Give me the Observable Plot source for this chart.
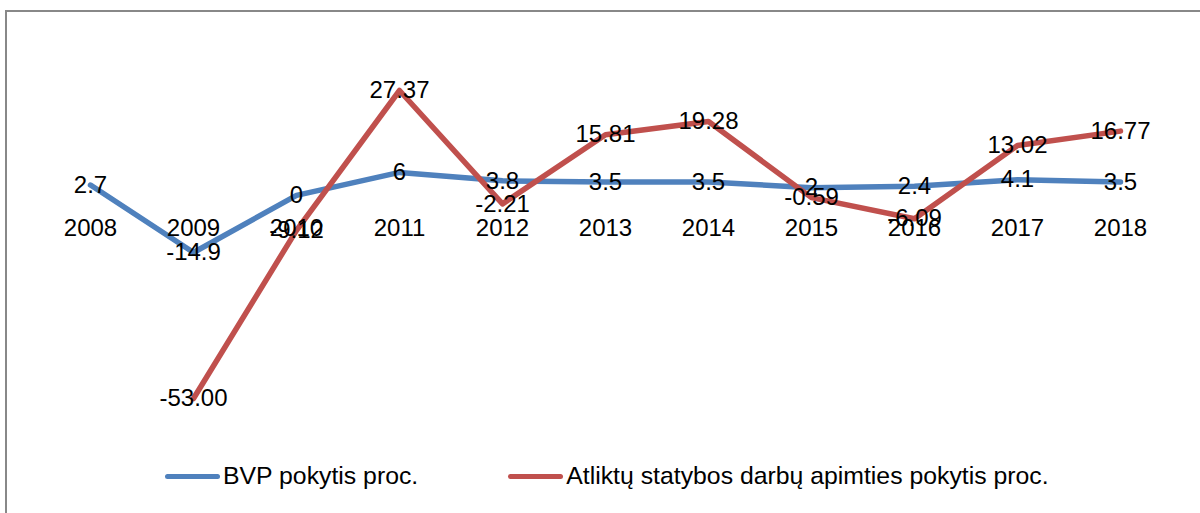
<!DOCTYPE html>
<html>
<head>
<meta charset="utf-8">
<script src="https://cdn.jsdelivr.net/npm/d3@7"></script>
<script src="https://cdn.jsdelivr.net/npm/@observablehq/plot@0.6"></script>
<style>
  html, body { margin: 0; padding: 0; background: #fff; }
  #wrap { position: relative; width: 1200px; height: 513px; overflow: hidden; font-family: "Liberation Sans", sans-serif; }
  #frame { position: absolute; left: 5px; top: 10px; width: 1200px; height: 510px; border-top: 2px solid #888; border-left: 2px solid #888; }
  #chart { position: absolute; left: 0; top: 0; }
  #legend { position: absolute; left: 165px; top: 462px; display: flex; align-items: center; font-size: 24.8px; color: #000; }
  .item { display: flex; align-items: center; }
  .sw { display: inline-block; width: 55px; height: 5px; border-radius: 3px; margin-right: 3px; }
</style>
</head>
<body>
<div id="wrap">
  <div id="frame"></div>
  <div id="chart"></div>
  <div id="legend"></div>
</div>
<script>
const years = ["2008","2009","2010","2011","2012","2013","2014","2015","2016","2017","2018"];
const bvp = [2.7, -14.9, 0, 6, 3.8, 3.5, 3.5, 2, 2.4, 4.1, 3.5];
const bvpLabels = ["2.7","-14.9","0","6","3.8","3.5","3.5","2","2.4","4.1","3.5"];
const statyba = [null, -53.00, -9.12, 27.37, -2.21, 15.81, 19.28, -0.59, -6.09, 13.02, 16.77];
const statybaLabels = [null, "-53.00", "-9.12", "27.37", "-2.21", "15.81", "19.28", "-0.59", "-6.09", "13.02", "16.77"];
const seriesNames = ["BVP pokytis proc.", "Atliktų statybos darbų apimties pokytis proc."];
const colors = ["#4F81BD", "#C0504D"];

const bvpData = years.map((y, i) => ({year: y, v: bvp[i], label: bvpLabels[i]}));
const stData = years.map((y, i) => ({year: y, v: statyba[i], label: statybaLabels[i]})).filter(d => d.v != null);

const chart = Plot.plot({
  width: 1200,
  height: 450,
  marginLeft: 88,
  marginRight: 79,
  marginTop: 90,
  marginBottom: 52,
  style: {fontFamily: "Liberation Sans, sans-serif", fontSize: "24px", background: "transparent", overflow: "visible"},
  x: {type: "point", domain: years, padding: 0, axis: null},
  y: {domain: [-53, 27.37], axis: null},
  marks: [
    Plot.line(bvpData, {x: "year", y: "v", stroke: colors[0], strokeWidth: 5.5, strokeLinejoin: "round", strokeLinecap: "round"}),
    Plot.line(stData, {x: "year", y: "v", stroke: colors[1], strokeWidth: 5.5, strokeLinejoin: "round", strokeLinecap: "round"}),
    Plot.text(years, {x: d => d, y: () => 0, dy: 33, text: d => d, fill: "#000", fontSize: 24}),
    Plot.text(bvpData, {x: "year", y: "v", text: "label", fill: "#000", fontSize: 24}),
    Plot.text(stData, {x: "year", y: "v", text: "label", fill: "#000", fontSize: 24})
  ]
});
document.getElementById("chart").appendChild(chart);

const legend = document.getElementById("legend");
seriesNames.forEach((name, i) => {
  const item = document.createElement("div");
  item.className = "item";
  if (i > 0) item.style.marginLeft = "90px";
  const sw = document.createElement("span");
  sw.className = "sw";
  sw.style.background = colors[i];
  const t = document.createElement("span");
  t.textContent = name;
  item.appendChild(sw);
  item.appendChild(t);
  legend.appendChild(item);
});
</script>
</body>
</html>
